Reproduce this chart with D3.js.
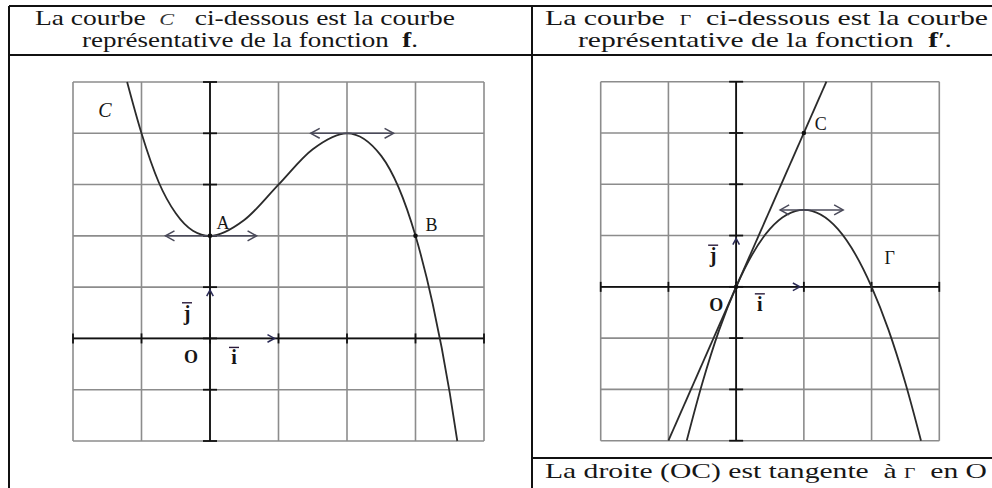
<!DOCTYPE html>
<html>
<head>
<meta charset="utf-8">
<script src="https://cdn.jsdelivr.net/npm/d3@7"></script>
<style>
  body { margin: 0; background: #fff; }
  svg { display: block; }
  text { font-family: "Liberation Serif", "Times New Roman", Times, serif; fill: #161616; white-space: pre; }
</style>
</head>
<body>
<div id="app"></div>
<script>
// curve C (function f)
const fX = [-1.21, -1, -0.75, -0.5, -0.25, 0, 0.5, 1, 1.5, 2, 2.5, 3, 3.25, 3.5, 3.61]
const fY = [5, 4, 3.05, 2.44, 2.1, 2, 2.31, 3, 3.69, 4, 3.56, 2, 0.68, -1.06, -2]

// curve Gamma (function f')
const gX = [-0.73, -0.5, -0.25, 0, 0.5, 1, 1.5, 2, 2.25, 2.5, 2.73]
const gY = [-3, -1.88, -0.84, 0, 1.13, 1.5, 1.13, 0, -0.84, -1.88, -3]

// tangent line (OC)
const tX = [-1, 1.333]
const tY = [-3, 4]

// grid extents
const leftXTicks = [-2, -1, 0, 1, 2, 3, 4]
const leftYTicks = [-2, -1, 0, 1, 2, 3, 4, 5]
const rightXTicks = [-2, -1, 0, 1, 2, 3]
const rightYTicks = [-3, -2, -1, 0, 1, 2, 3, 4]

// horizontal tangents [x0, x1, y]
const leftTangents = [[-0.65, 0.68, 2], [1.47, 2.68, 4]]
const rightTangents = [[0.65, 1.58, 1.5]]

const W = 992, H = 488
const svg = d3.select('#app').append('svg')
  .attr('width', W)
  .attr('height', H)

// table frame
const frame = svg.append('g').attr('stroke', '#111').attr('stroke-width', 2)
frame.append('line').attr('x1', 9).attr('x2', W).attr('y1', 6).attr('y2', 6)
frame.append('line').attr('x1', 9).attr('x2', W).attr('y1', 55).attr('y2', 55)
frame.append('line').attr('x1', 9).attr('x2', 9).attr('y1', 6).attr('y2', H)
frame.append('line').attr('x1', 532).attr('x2', 532).attr('y1', 6).attr('y2', H)
frame.append('line').attr('x1', 532).attr('x2', W).attr('y1', 458).attr('y2', 458)

// header texts
function headText(x, y, len, parts) {
  const t = svg.append('text')
    .attr('x', x).attr('y', y)
    .attr('font-size', 21)
    .attr('textLength', len)
    .attr('lengthAdjust', 'spacingAndGlyphs')
  parts.forEach(p => {
    const s = t.append('tspan').text(p.t)
    if (p.it) s.attr('font-style', 'italic').attr('font-size', 17).attr('fill', '#333')
    if (p.sm) s.attr('font-size', 14)
    if (p.b) s.attr('font-weight', 'bold')
  })
}
headText(35, 25, 420, [{t: 'La courbe  '}, {t: 'C', it: true}, {t: '   ci-dessous est la courbe'}])
headText(82, 47, 336, [{t: 'représentative de la fonction  '}, {t: 'f', b: true}, {t: '.'}])
headText(545, 25, 443, [{t: 'La courbe  '}, {t: 'Γ', sm: true}, {t: '  ci-dessous est la courbe'}])
headText(578, 47, 374, [{t: 'représentative de la fonction  '}, {t: 'f', b: true}, {t: '′.'}])
headText(545, 478, 442, [{t: 'La droite (OC) est tangente  à '}, {t: 'Γ', sm: true}, {t: '  en O'}])

function chevron(g, x, y, dir, size) {
  // open arrowhead pointing in dir ('r','l','u')
  const s = size
  let d
  if (dir === 'r') d = `M${x - s},${y - s * 0.55}L${x},${y}L${x - s},${y + s * 0.55}`
  if (dir === 'l') d = `M${x + s},${y - s * 0.55}L${x},${y}L${x + s},${y + s * 0.55}`
  if (dir === 'u') d = `M${x - s * 0.55},${y + s}L${x},${y}L${x + s * 0.55},${y + s}`
  g.append('path').attr('d', d).attr('fill', 'none')
}

function vecLabel(g, x, y, letter) {
  g.append('text').attr('x', x).attr('y', y).attr('text-anchor', 'middle')
    .attr('font-size', 20).attr('font-weight', 'bold').attr('fill', '#2a1a3a').text(letter)
  g.append('line').attr('x1', x - 5).attr('x2', x + 5).attr('y1', y - 17).attr('y2', y - 17)
    .attr('stroke', '#2a1a3a').attr('stroke-width', 1.4)
}

function drawPlot(opt) {
  const x = d3.scaleLinear().domain(d3.extent(opt.xTicks)).range(opt.xr)
  const y = d3.scaleLinear().domain(d3.extent(opt.yTicks)).range(opt.yr)
  const g = svg.append('g')

  // grid
  g.append('g').selectAll('line.v').data(opt.xTicks).join('line')
    .attr('x1', d => x(d)).attr('x2', d => x(d))
    .attr('y1', opt.yr[0]).attr('y2', opt.yr[1])
    .attr('stroke', '#8c8c8c').attr('stroke-width', 1.6)
  g.append('g').selectAll('line.h').data(opt.yTicks).join('line')
    .attr('y1', d => y(d)).attr('y2', d => y(d))
    .attr('x1', opt.xr[0]).attr('x2', opt.xr[1])
    .attr('stroke', '#8c8c8c').attr('stroke-width', 1.6)

  // axes with ticks
  const ax = g.append('g').attr('stroke', '#111').attr('stroke-width', 1.8)
  ax.append('line').attr('x1', opt.xr[0]).attr('x2', opt.xr[1]).attr('y1', y(0)).attr('y2', y(0))
  ax.append('line').attr('x1', x(0)).attr('x2', x(0)).attr('y1', opt.yr[0]).attr('y2', opt.yr[1])
  ax.selectAll('line.xt').data(opt.xTicks).join('line')
    .attr('x1', d => x(d)).attr('x2', d => x(d)).attr('y1', y(0) - 5).attr('y2', y(0) + 5)
  ax.selectAll('line.yt').data(opt.yTicks).join('line')
    .attr('y1', d => y(d)).attr('y2', d => y(d)).attr('x1', x(0) - 7).attr('x2', x(0) + 7)

  // unit vectors heads
  const vh = g.append('g').attr('stroke', '#2a2a55').attr('stroke-width', 1.5)
  chevron(vh, x(1) - 4, y(0), 'r', 7)
  chevron(vh, x(0), y(1) + 3, 'u', 6)

  // curves
  const line = d3.line().x(d => x(d[0])).y(d => y(d[1]))
  opt.curves.forEach(c => {
    g.append('path')
      .attr('d', line.curve(c.curve)(d3.zip(c.xs, c.ys)))
      .attr('fill', 'none').attr('stroke', '#2b2b2b').attr('stroke-width', 1.8)
  })

  // horizontal tangents
  const tg = g.append('g').attr('stroke', '#4a4a5a').attr('stroke-width', 1.5)
  opt.tangents.forEach(t => {
    tg.append('line').attr('x1', x(t[0])).attr('x2', x(t[1])).attr('y1', y(t[2])).attr('y2', y(t[2]))
    chevron(tg, x(t[0]), y(t[2]), 'l', 9)
    chevron(tg, x(t[1]), y(t[2]), 'r', 9)
  })

  // points
  g.selectAll('circle').data(opt.points).join('circle')
    .attr('cx', d => x(d[0])).attr('cy', d => y(d[1])).attr('r', 2.3).attr('fill', '#111')

  // labels
  opt.labels.forEach(l => {
    g.append('text').attr('x', x(l.x) + l.dx).attr('y', y(l.y) + l.dy)
      .attr('text-anchor', 'middle').attr('font-size', l.size || 18)
      .attr('font-style', l.it ? 'italic' : 'normal')
      .attr('font-weight', l.b ? 'bold' : 'normal')
      .attr('fill', l.c || '#1a1a3a')
      .text(l.t)
  })
  vecLabel(g, x(0) - 23, y(0.5) + 7 + opt.jdy, 'j')
  vecLabel(g, x(0.35), y(0) + 26 + opt.idy, 'i')
}

drawPlot({
  xTicks: leftXTicks, yTicks: leftYTicks,
  xr: [73, 484], yr: [441, 82],
  curves: [{xs: fX, ys: fY, curve: d3.curveMonotoneX}],
  tangents: leftTangents,
  points: [[0, 2], [3, 2]],
  labels: [
    {t: 'C', x: -2, y: 5, dx: 32, dy: 35, it: true, size: 20, c: '#222'},
    {t: 'A', x: 0, y: 2, dx: 13, dy: -7, size: 18},
    {t: 'B', x: 3, y: 2, dx: 16, dy: -5, size: 18},
    {t: 'O', x: 0, y: 0, dx: -19, dy: 25, b: true, size: 18}
  ],
  jdy: 0, idy: 0
})

drawPlot({
  xTicks: rightXTicks, yTicks: rightYTicks,
  xr: [600.7, 939.3], yr: [440.7, 81.7],
  curves: [
    {xs: gX, ys: gY, curve: d3.curveMonotoneX},
    {xs: tX, ys: tY, curve: d3.curveLinear}
  ],
  tangents: rightTangents,
  points: [[1, 3], [0, 0]],
  labels: [
    {t: 'C', x: 1, y: 3, dx: 17, dy: -3, size: 18},
    {t: 'Γ', x: 2, y: 0, dx: 18, dy: -23, size: 18},
    {t: 'O', x: 0, y: 0, dx: -20, dy: 24, b: true, size: 18}
  ],
  jdy: -6, idy: -2
})
</script>
</body>
</html>
